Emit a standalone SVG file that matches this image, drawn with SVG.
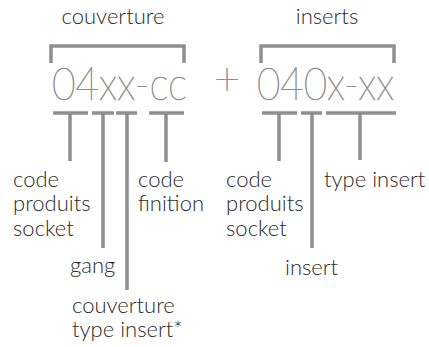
<svg xmlns="http://www.w3.org/2000/svg" width="429" height="347" viewBox="0 0 429 347">
<style>
.lbl{font-family:"Lato","Open Sans",sans-serif;font-weight:300;font-size:22px;fill:#2b2b2b}
.big{font-family:"Lato","Open Sans",sans-serif;font-weight:200;font-size:45px;fill:#8e8e8e;stroke:#8e8e8e;stroke-width:0.7}
.ln{stroke:#8f8f8f;stroke-width:3.5;fill:none}
</style>
<rect width="429" height="347" fill="#fff"/>
<g id="couverture">
<text class="lbl" x="113" y="24" text-anchor="middle">couverture</text>
<path class="ln" d="M51 63V46H184V63"/>
<text class="big" x="52" y="100" textLength="135" lengthAdjust="spacingAndGlyphs">04xx-cc</text>
</g>
<g id="plus"><text class="big" x="227" y="95" text-anchor="middle" font-size="34">+</text></g>
<g id="inserts">
<text class="lbl" x="327" y="24" text-anchor="middle">inserts</text>
<path class="ln" d="M261 63V46H394V63"/>
<text class="big" x="257" y="100" textLength="137" lengthAdjust="spacingAndGlyphs">040x-xx</text>
</g>
<g id="connectors">
<path class="ln" d="M53 113H88M70 113V161"/>
<path class="ln" d="M92 113H114M103 113V248"/>
<path class="ln" d="M116 113H137M127 113V290"/>
<path class="ln" d="M149 113H184M166 113V162"/>
<path class="ln" d="M262 113H297M279 113V161"/>
<path class="ln" d="M301 113H322M312 113V248"/>
<path class="ln" d="M326 113H396M360 113V160"/>
</g>
<g id="code-produits-socket-1"><text class="lbl" x="13" y="187">code<tspan x="13" y="211">produits</tspan><tspan x="13" y="236">socket</tspan></text></g>
<g id="gang"><text class="lbl" x="70" y="273">gang</text></g>
<g id="couverture-type-insert"><text class="lbl" x="72" y="313">couverture<tspan x="72" y="337">type insert*</tspan></text></g>
<g id="code-finition"><text class="lbl" x="138" y="187">code<tspan x="138" y="211">finition</tspan></text></g>
<g id="code-produits-socket-2"><text class="lbl" x="226" y="187">code<tspan x="226" y="211">produits</tspan><tspan x="226" y="236">socket</tspan></text></g>
<g id="insert"><text class="lbl" x="285" y="275">insert</text></g>
<g id="type-insert"><text class="lbl" x="324" y="187">type insert</text></g>
</svg>
